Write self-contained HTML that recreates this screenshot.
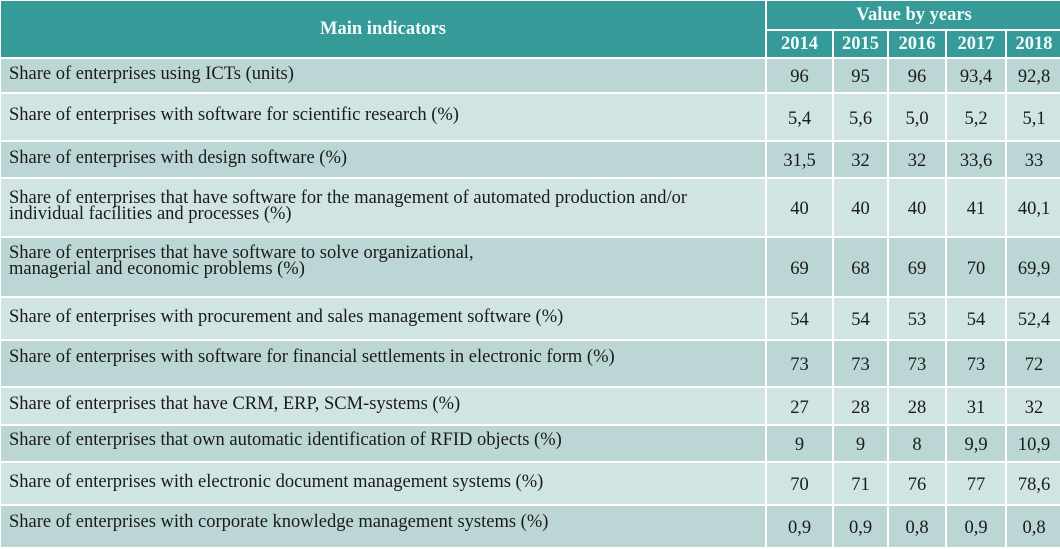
<!DOCTYPE html>
<html><head><meta charset="utf-8"><style>
html,body{margin:0;padding:0;background:#fff;}
body{width:1060px;height:547px;overflow:hidden;}
table{border-collapse:collapse;table-layout:fixed;width:1062px;margin-left:-1px;margin-top:-1px;font-family:"Liberation Serif",serif;font-size:18.5px;color:#1a1a1a;}
td,th{border:2px solid #fff;padding:0;box-sizing:border-box;white-space:nowrap;}
th{background:#369a98;color:#f4fbfb;font-weight:bold;font-size:18.5px;}
td.t{padding:0 0 4px 8px;vertical-align:middle;line-height:16px;}
td.n{text-align:center;vertical-align:middle;padding-top:4px;}
tr.d td{background:#bcd6d5;}
tr.l td{background:#d0e4e2;}
</style></head><body>
<table>
<colgroup><col style="width:766px"><col style="width:67px"><col style="width:55px"><col style="width:58px"><col style="width:60px"><col style="width:56px"></colgroup>
<tr style="height:30px"><th rowspan="2">Main indicators</th><th colspan="5">Value by years</th></tr>
<tr style="height:28px"><th>2014</th><th>2015</th><th>2016</th><th>2017</th><th>2018</th></tr>
<tr class="d" style="height:35px"><td class="t">Share of enterprises using ICTs (units)</td><td class="n">96</td><td class="n">95</td><td class="n">96</td><td class="n">93,4</td><td class="n">92,8</td></tr>
<tr class="l" style="height:48px"><td class="t">Share of enterprises with software for scientific research (%)</td><td class="n">5,4</td><td class="n">5,6</td><td class="n">5,0</td><td class="n">5,2</td><td class="n">5,1</td></tr>
<tr class="d" style="height:37px"><td class="t">Share of enterprises with design software (%)</td><td class="n">31,5</td><td class="n">32</td><td class="n">32</td><td class="n">33,6</td><td class="n">33</td></tr>
<tr class="l" style="height:59px"><td class="t">Share of enterprises that have software for the management of automated production and/or<br>individual facilities and processes (%)</td><td class="n">40</td><td class="n">40</td><td class="n">40</td><td class="n">41</td><td class="n">40,1</td></tr>
<tr class="d" style="height:60px"><td class="t" style="padding-bottom:12px">Share of enterprises that have software to solve organizational,<br>managerial and economic problems (%)</td><td class="n">69</td><td class="n">68</td><td class="n">69</td><td class="n">70</td><td class="n">69,9</td></tr>
<tr class="l" style="height:43px"><td class="t">Share of enterprises with procurement and sales management software (%)</td><td class="n">54</td><td class="n">54</td><td class="n">53</td><td class="n">54</td><td class="n">52,4</td></tr>
<tr class="d" style="height:47px"><td class="t" style="padding-bottom:14px">Share of enterprises with software for financial settlements in electronic form (%)</td><td class="n">73</td><td class="n">73</td><td class="n">73</td><td class="n">73</td><td class="n">72</td></tr>
<tr class="l" style="height:38px"><td class="t">Share of enterprises that have CRM, ERP, SCM-systems (%)</td><td class="n">27</td><td class="n">28</td><td class="n">28</td><td class="n">31</td><td class="n">32</td></tr>
<tr class="d" style="height:37px"><td class="t" style="padding-bottom:8px">Share of enterprises that own automatic identification of RFID objects (%)</td><td class="n">9</td><td class="n">9</td><td class="n">8</td><td class="n">9,9</td><td class="n">10,9</td></tr>
<tr class="l" style="height:43px"><td class="t">Share of enterprises with electronic document management systems (%)</td><td class="n">70</td><td class="n">71</td><td class="n">76</td><td class="n">77</td><td class="n">78,6</td></tr>
<tr class="d" style="height:43px"><td class="t" style="padding-bottom:10px">Share of enterprises with corporate knowledge management systems (%)</td><td class="n">0,9</td><td class="n">0,9</td><td class="n">0,8</td><td class="n">0,9</td><td class="n">0,8</td></tr>
</table>
</body></html>
